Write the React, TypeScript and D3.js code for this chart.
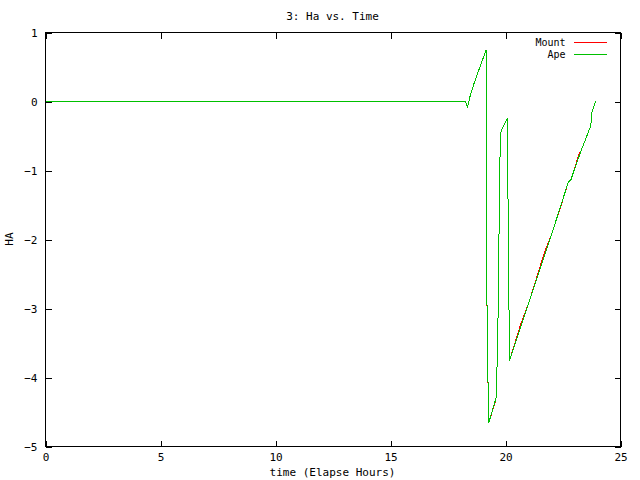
import React, { useEffect, useRef } from "react";
import * as d3 from "d3";

const W = 640;
const H = 480;

const title = "3: Ha vs. Time";
const xTitle = "time (Elapse Hours)";
const yTitle = "HA";

const xTicks = [0, 5, 10, 15, 20, 25];
const yTicks = [1, 0, -1, -2, -3, -4, -5];

// Ape (green, drawn on top)
const apeTime = [0, 18.25, 18.35, 18.47, 18.65, 19.16, 19.17, 19.2, 19.27, 19.55, 19.6, 19.62, 19.66, 19.7, 19.74, 19.78, 19.85, 20.09, 20.1, 20.15, 20.17, 21.04, 22.0, 22.74, 22.84, 22.99, 23.29, 23.71, 23.76, 23.93];
const apeHa = [0, 0, -0.08, 0.09, 0.28, 0.75, -0.6, -3.3, -4.66, -4.34, -4.28, -3.99, -3.49, -2.55, -1.17, -0.47, -0.4, -0.24, -1.1, -2.89, -3.76, -2.89, -1.93, -1.16, -1.14, -0.99, -0.71, -0.35, -0.155, 0.01];

// Mount (red, mostly hidden under Ape)
const mountTime = [0, 18.25, 18.35, 18.47, 18.65, 19.16, 19.17, 19.2, 19.27, 19.55, 19.6, 19.62, 19.66, 19.7, 19.74, 19.78, 19.85, 20.09, 20.1, 20.15, 20.17, 20.67, 21.04, 21.68, 22.0, 22.33, 22.74, 22.84, 22.99, 23.17, 23.29, 23.71, 23.76, 23.93];
const mountHa = [0, 0, -0.08, 0.09, 0.28, 0.75, -0.62, -3.32, -4.66, -4.36, -4.28, -3.99, -3.49, -2.55, -1.17, -0.47, -0.4, -0.24, -1.1, -2.89, -3.76, -3.22, -2.89, -2.2, -1.93, -1.6, -1.16, -1.14, -0.99, -0.78, -0.71, -0.35, -0.155, 0.01];

const series = [
  { name: "Mount", color: "#ff0000", t: mountTime, v: mountHa },
  { name: "Ape", color: "#00c000", t: apeTime, v: apeHa },
];

const App = () => {
  const ref = useRef<SVGSVGElement>(null);

  useEffect(() => {
    document.body.style.margin = "0";
    const margin = { top: 32, right: 20, bottom: 34, left: 45 };
    const pw = W - margin.left - margin.right;
    const ph = H - margin.top - margin.bottom;

    const svg = d3.select(ref.current)
      .attr("width", W)
      .attr("height", H)
      .style("display", "block")
      .style("font-family", "'DejaVu Sans Mono', monospace")
      .style("font-size", "11px")
      .style("background", "#fff");
    svg.selectAll("*").remove();

    const g = svg.append("g").attr("transform", `translate(${margin.left + 0.5},${margin.top + 0.5})`);

    const x = d3.scaleLinear().domain([0, 25]).range([0, pw]);
    const y = d3.scaleLinear().domain([-5, 1]).range([ph, 0]);

    const styleAxis = (sel: any, labels: boolean) => {
      sel.select(".domain").remove();
      sel.selectAll("line").attr("stroke", "#000").attr("shape-rendering", "crispEdges");
      if (!labels) sel.selectAll("text").remove();
      else sel.selectAll("text").attr("fill", "#000").style("font-family", "'DejaVu Sans Mono', monospace").style("font-size", "11px");
    };

    g.append("g").attr("transform", `translate(0,${ph})`)
      .call(d3.axisBottom(x).tickValues(xTicks).tickSize(-6).tickPadding(7).tickFormat(d3.format("d")))
      .call((s: any) => styleAxis(s, true));
    g.append("g")
      .call(d3.axisTop(x).tickValues(xTicks).tickSize(-6))
      .call((s: any) => styleAxis(s, false));
    g.append("g")
      .call(d3.axisLeft(y).tickValues(yTicks).tickSize(-6).tickPadding(8).tickFormat(d3.format("d")))
      .call((s: any) => styleAxis(s, true));
    g.append("g").attr("transform", `translate(${pw},0)`)
      .call(d3.axisRight(y).tickValues(yTicks).tickSize(-6))
      .call((s: any) => styleAxis(s, false));

    g.append("rect")
      .attr("width", pw).attr("height", ph)
      .attr("fill", "none").attr("stroke", "#000")
      .attr("shape-rendering", "crispEdges");

    const line = d3.line<[number, number]>().x(d => x(d[0])).y(d => y(d[1]));

    series.forEach(s => {
      const pts = s.t.map((t, i) => [t, s.v[i]] as [number, number]);
      g.append("path")
        .attr("d", line(pts))
        .attr("fill", "none")
        .attr("stroke", s.color)
        .attr("stroke-width", 1)
        .attr("shape-rendering", "crispEdges");
    });

    // legend
    const legend = g.append("g").style("font-size", "10px");
    series.forEach((s, i) => {
      const ly = 10 + i * 12;
      legend.append("text")
        .attr("x", 520).attr("y", ly).attr("dy", "0.35em")
        .attr("text-anchor", "end").attr("fill", "#000")
        .text(s.name);
      legend.append("line")
        .attr("x1", 528).attr("x2", 561).attr("y1", ly).attr("y2", ly)
        .attr("stroke", s.color).attr("shape-rendering", "crispEdges");
    });

    svg.append("text")
      .attr("x", margin.left + pw / 2).attr("y", 20)
      .attr("text-anchor", "middle").text(title);
    svg.append("text")
      .attr("x", margin.left + pw / 2).attr("y", 476)
      .attr("text-anchor", "middle").text(xTitle);
    svg.append("text")
      .attr("transform", `translate(13,${margin.top + ph / 2}) rotate(-90)`)
      .attr("text-anchor", "middle").text(yTitle);
  }, []);

  return <svg ref={ref}></svg>;
};

export default App;
